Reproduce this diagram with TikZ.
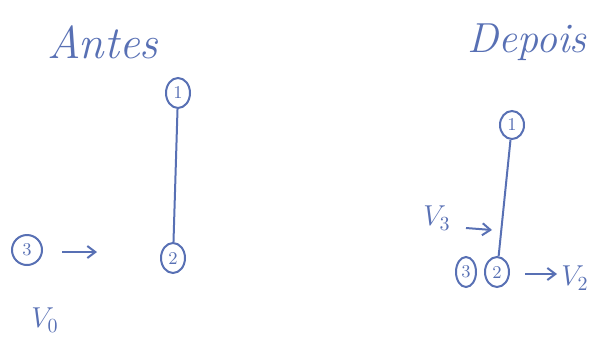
\documentclass[tikz,border=0pt]{standalone}
\usepackage{xcolor}
\usepackage{tikz}
\usetikzlibrary{arrows.meta,positioning,shapes.geometric}
\definecolor{ink}{RGB}{88,112,180}

\tikzset{
  vertex/.style={draw=ink,ellipse,inner sep=0pt,minimum width=12pt,minimum height=15pt,
    text=ink,font=\fontsize{9}{9}\selectfont},
  title/.style={text=ink,font=\fontsize{23}{23}\selectfont\itshape},
  vlabel/.style={text=ink,font=\fontsize{14}{14}\selectfont}
}

\begin{document}
\begin{tikzpicture}[x=0.5pt,y=-0.5pt,>={Straight Barb[length=4pt,width=6pt]},line width=1pt,draw=ink]
  \useasboundingbox (0,0) rectangle (593,343);

  % --- Antes ---
  \node[title] (antes) at (103,42) {Antes};
  \node[vertex] (a1) at (178,93) {1};
  \node[vertex] (a2) at (173,258) {2};
  \node[vertex,minimum width=15pt] (a3) at (27,250) {3};
  \draw[ink] (a1) -- (a2);
  \coordinate (a3s) at (62,252);
  \coordinate (a3e) at (97,252);
  \draw[ink,->] (a3s) -- (a3e);
  \node[vlabel] (v0) at (45,320) {$V_0$};

  % --- Depois ---
  \node[title,font=\fontsize{21}{21}\selectfont\itshape] (depois) at (527,42) {Depois};
  \node[vertex,minimum height=14pt] (d1) at (512,125) {1};
  \node[vertex] (d2) at (497,272) {2};
  \node[vertex,minimum width=10pt] (d3) at (466,272) {3};
  \draw[ink] (d1) -- (d2);
  \node[vlabel] (v3) at (437,218) {$V_3$};
  \coordinate (v3s) at (466,228);
  \coordinate (v3e) at (492,230);
  \draw[ink,->] (v3s) -- (v3e);
  \coordinate (v2s) at (525,274);
  \coordinate (v2e) at (557,274);
  \draw[ink,->] (v2s) -- (v2e);
  \node[vlabel] (v2) at (575,278) {$V_2$};
\end{tikzpicture}
\end{document}
